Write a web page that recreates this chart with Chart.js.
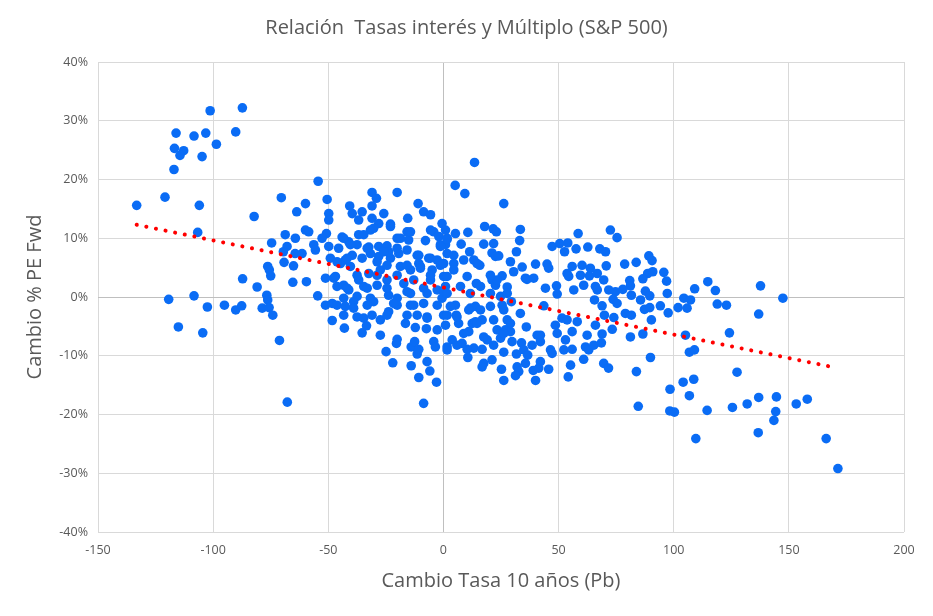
<!DOCTYPE html>
<html>
<head>
<meta charset="utf-8">
<script src="https://cdn.jsdelivr.net/npm/chart.js@4.4.1/dist/chart.umd.min.js"></script>
<style>
  body { margin: 0; background: #fff; }
  #chart { display: block; }
</style>
</head>
<body>
<canvas id="chart" width="933" height="616"></canvas>
<script>
// ===============================
// Data (x = cambio tasa 10 años en pb, y = cambio % PE fwd)
// ===============================
const xTicks = [-150, -100, -50, 0, 50, 100, 150, 200];
const yTicks = [-40, -30, -20, -10, 0, 10, 20, 30, 40];

// left cluster
const pointsLeft = [
  [-101.3,31.7],[-87.3,32.2],[-116.1,27.9],[-108.3,27.4],[-103.2,27.9],[-90.2,28.1],[-98.6,26.0],
  [-116.8,25.3],[-112.8,24.9],[-114.4,24.1],[-104.8,23.9],[-117.0,21.7],[-133.2,15.6],[-120.9,17.0],
  [-106.0,15.6],[-70.4,16.9],[-63.7,14.5],[-82.2,13.7],[-106.7,11.0],[-74.6,9.2],[-68.7,10.6],
  [-67.9,8.6],[-69.5,7.7],[-64.4,7.4],[-69.2,5.9],[-65.1,5.3],[-76.3,5.2],[-75.6,4.6],[-75.0,3.6],
  [-87.2,3.1],[-65.4,2.5],[-80.9,1.7],[-76.7,0.3],[-76.3,-0.5],[-119.3,-0.4],[-108.3,0.2],
  [-102.5,-1.7],[-95.1,-1.4],[-90.2,-2.2],[-87.6,-1.5],[-78.7,-1.9],[-75.7,-1.8],[-74.1,-3.1],
  [-115.1,-5.1],[-104.5,-6.1],[-71.2,-7.4],[-67.8,-17.9]
];

// centre-left cluster, upper half
const pointsMidUpper = [
  [-54.4,19.7],[-31,17.8],[-20.1,17.8],[-29.1,16.8],[-59.9,15.9],[-50.5,16.6],[-40.7,15.5],[-31,15.5],
  [-11,15.9],[-49.8,14.2],[-49.8,13.1],[-39.6,14.2],[-35.3,14.5],[-36.8,13.1],[-31,13.4],[-25.9,14.2],
  [-15.5,13.4],[-8.6,14.5],[-5.6,14.0],[-0.6,12.5],[-28.1,12.5],[-23,12.4],[-31.7,11.4],[-36.8,10.6],
  [-59.9,11.4],[-58.5,11.1],[-64.3,10.0],[-50.8,10.8],[-44,10.2],[-41.1,9.4],[-52.7,10.0],[-56.3,8.9],
  [-55.6,8.0],[-49.8,8.6],[-45.5,8.3],[-37.5,8.9],[-32.4,8.5],[-28.1,8.6],[-24.5,8.7],[-20.1,10.0],
  [-15.8,11.1],[-15.1,9.7],[-7.8,9.6],[-4.2,11.1],[-2,10.3],[0.9,8.9],[1.6,7.4],[-2.7,6.3],[-6.4,6.6],
  [-10.7,7.1],[-10.7,5.7],[-15.8,8.0],[-19.4,7.4],[-23,6.6],[-23.8,7.7],[-28.1,6.9],[-31.7,7.4],
  [-35.3,6.6],[-39.6,7.1],[-42.6,6.3],[-40.4,5.2],[-44.7,5.7],[-49.1,6.6],[-61.4,7.4],[-59.5,2.6],
  [-51.2,3.2],[-46.9,3.5],[-43.3,2.0],[-36.8,2.9],[-27.4,4.6],[-32.4,4.0],[-24.5,2.9],[-18.7,5.2],
  [-14.3,4.6],[-10,5.2],[-4.9,4.6],[-5.6,2.9],[-12.9,2.9],[-17.2,2.3],[-28.8,2.0],[-34.6,1.8],
  [-41.1,1.2],[-46.2,1.8],[-54.6,0.2],[-51.2,-1.4],[-48.3,-1.1],[-43.3,-0.2],[-37.5,0.1],[-31.7,-0.2],
  [-23.8,0.3],[-20.1,-0.2],[-14.3,0.6],[-7.1,0.6],[-2.7,1.2],[0.9,1.8],[-0.6,-0.2],[-8.6,-1.1],[-14.3,-1.4],
  // dense core
  [-43.3,10.0],[-34.6,10.6],[-30.3,11.7],[-23,12.0],[-18.7,10.0],[-14.3,11.1],[-5.6,11.4],[-1.3,8.9],
  [1.6,10.0],[-40.4,8.9],[-33.1,8.3],[-25.9,7.7],[-20.1,8.3],[-11.4,7.1],[-5.6,6.6],[-46.2,6.0],
  [-41.8,6.6],[-28.8,6.0],[-24.5,5.4],[-15.8,5.4],[-10,4.9],[-1.3,5.4],[-47.6,3.2],[-37.5,3.7],
  [-28.8,3.7],[-20.1,3.7],[-5.6,3.7],[-41.8,1.5],[-33.1,1.5],[-24.5,1.5],[-15.8,0.9],[-8.6,1.5],
  [0.1,0.9],[-46.2,-1.4],[-39,-0.8],[-30.3,-0.8],[-20.1,-1.4],[-12.9,-1.4],[-2.7,-1.4]
];

// centre-left cluster, lower half
const pointsMidLower = [
  [-48.3,-4.0],[-43,-5.3],[-42.6,-1.6],[-39,-1.9],[-37.5,-3.4],[-33.1,-1.4],[-31,-3.1],[-35.3,-6.1],
  [-33.4,-4.9],[-27.4,-6.5],[-27.4,-3.9],[-23.8,-2.5],[-21.6,-1.1],[-16.5,-4.5],[-12.2,-5.2],[-7.4,-5.4],
  [-2.7,-5.6],[-7.1,-3.4],[-11.4,-3.1],[-20.1,-7.2],[-20.4,-7.9],[-24.9,-9.3],[-22,-11.2],[-14,-8.5],
  [-12.5,-7.6],[-11.4,-9.7],[-10.7,-8.9],[-4.2,-7.6],[-3.5,-8.5],[-7.1,-11.0],[-14,-11.7],[-5.9,-12.6],
  [-10.7,-13.7],[-3,-14.5],[-8.6,-18.1],[1.6,-9.0],
  [-43.3,-3.1],[-34.6,-3.6],[-24.5,-3.1],[-15.8,-3.1],[-7.1,-3.6],[0.1,-3.1]
];

// centre-right cluster, upper half
const pointsRightUpper = [
  [13.5,22.9],[5.1,19.0],[9.3,17.6],[26.2,15.9],[0.9,11.4],[5.2,10.8],[10.6,11.0],[17.9,12.0],
  [21.6,11.6],[23,11.1],[33.4,11.5],[33.1,9.6],[31.7,7.7],[17.5,9.0],[21.8,9.1],[7.7,9.0],[1.6,9.8],
  [-1.3,8.6],[11.4,7.7],[4.5,7.1],[8.8,6.3],[13.2,6.3],[15.8,5.4],[21.1,7.5],[22.6,6.9],[24,7.0],
  [29.1,6.0],[30.5,4.3],[34.2,5.1],[40,5.6],[45,5.6],[45.7,4.9],[47.2,8.6],[50.5,9.1],[54,9.2],
  [52.6,7.7],[57.6,8.2],[58.5,10.8],[62.7,8.5],[67.9,8.2],[60.2,5.4],[63.8,4.9],[55.9,5.2],[53.7,4.0],
  [54.4,3.5],[59.5,3.7],[63.4,3.6],[66.8,4.0],[36.3,3.0],[39.2,3.2],[44.3,1.5],[49.1,1.9],[49.4,0.5],
  [56.6,1.2],[60.9,2.0],[66,1.8],[65.6,-0.5],[66.8,1.2],[27.7,1.7],[24.8,0.1],[29.5,-0.8],[21.1,2.9],
  [25.5,3.6],[22.6,2.0],[14.3,2.3],[16.1,1.8],[10.3,3.5],[7.4,1.8],[11.7,0.6],[4.5,5.7],[0.1,5.7],
  [0.1,3.5],[4.5,4.6],[1.6,0.6],[5.2,-1.4],[13.9,-1.6],[20.4,-1.6],[25.5,-1.4],[43.6,-1.5],
  [14.6,5.7],[1.6,3.5],[23.3,2.9],[20.4,3.7],[35.6,3.2],[20.4,0.6],[27.7,0.6],[3.0,-1.6],[11.7,-1.9]
];

// centre-right cluster, lower half
const pointsRightLower = [
  [1.6,-3.1],[5.6,-3.1],[0.9,-4.8],[6.6,-4.5],[11,-2.2],[16.1,-2.2],[12.5,-4.5],[13.9,-4.2],[16.8,-3.9],
  [11,-5.9],[27.7,-3.9],[23.3,-5.6],[26.9,-5.6],[29.1,-5.9],[36,-5.1],[40.7,-6.5],[24.8,-7.0],[29.8,-7.6],
  [19,-7.3],[21.8,-8.2],[3.8,-7.3],[8.1,-7.9],[1.6,-8.5],[5.9,-8.2],[13.2,-8.7],[16.8,-8.9],[10.3,-8.9],
  [10.6,-10.3],[26.2,-9.4],[33.9,-7.8],[38.5,-8.2],[42.1,-7.6],[34.9,-9.0],[31.7,-9.7],[36.6,-9.9],
  [35.6,-11.3],[42.1,-11.0],[46.5,-9.0],[47.2,-9.6],[21.1,-10.7],[17.5,-11.3],[16.8,-11.9],[25.2,-12.3],
  [32,-11.9],[39,-12.5],[41.4,-12.1],[45.7,-12.3],[32.7,-12.7],[26.2,-14.2],[31.3,-13.4],[40,-14.2],
  [48.6,-4.8],[49.4,-6.2],[53,-7.3],[52.3,-9.0],[55.9,-5.9],[55.9,-8.9],[51.5,-3.6],[53.7,-3.9],
  [58.1,-4.2],[62.4,-6.5],[61.7,-8.5],[63.1,-9.0],[60.9,-10.6],[55.2,-11.6],[54.2,-13.6],[65.3,-8.2],[66,-4.8],
  [26.2,-2.2],[33.4,-2.8],[5.9,-3.4],[14.6,-4.5],[21.8,-3.9],[29.1,-4.5],[8.8,-6.2],[26.2,-6.2],
  [17.5,-6.8],[42.1,-6.5]
];

// right side
const pointsFarRight = [
  [72.5,11.4],[75.4,10.1],[70.4,7.7],[70.7,5.3],[78.7,5.6],[83.7,5.9],[89.2,7.0],[90.6,6.2],[88.7,4.0],
  [90.9,4.3],[86.6,3.1],[95.7,4.2],[96.9,2.7],[80.9,2.8],[81.2,1.9],[69.6,2.9],[71.8,1.2],[74.7,0.9],
  [77.9,1.3],[81.6,0.3],[87.7,1.0],[89.6,0.2],[97.2,0.6],[85.6,-0.5],[73.7,-0.4],[68.9,-1.5],[75.4,-1.1],
  [87.3,-2.1],[89.6,-1.8],[94.2,-1.5],[97.6,-2.7],[79,-2.8],[81.6,-3.1],[74,-3.5],[69.9,-3.1],[90.3,-3.9],
  [101.9,-1.8],[104.4,-0.2],[107.3,-0.5],[105.8,-1.9],[109.1,1.4],[114.8,2.6],[118.1,1.1],[118.9,-1.2],
  [122.9,-1.4],
  [68.9,-6.3],[68.6,-7.8],[73.3,-5.5],[81.2,-6.8],[86.6,-6.3],[69.6,-11.3],[71.7,-12.1],[83.8,-12.7],
  [89.9,-10.3],[84.6,-18.6],[105.1,-6.5],[106.8,-9.4],[109,-9.0],[124.2,-6.1],[127.5,-12.8],[108.7,-14.0],
  [104.1,-14.5],[106.8,-16.8],[98.4,-15.7],[98.3,-19.4],[100.3,-19.6],[114.5,-19.3],[125.5,-18.8],
  [109.6,-24.1],
  [137.7,1.9],[147.4,-0.2],[136.9,-2.9],[131.9,-18.2],[136.9,-17.1],[144.6,-17.0],[144.3,-19.5],
  [143.5,-21.0],[136.7,-23.1],[153.2,-18.2],[158,-17.4],[166.2,-24.1],[171.3,-29.2]
];

// linear trend line, end points
const trendX = [-133.2, 170];
const trendY = [12.3, -12.0];

// ===============================
// Build chart
// ===============================
const allPoints = [].concat(pointsLeft, pointsMidUpper, pointsMidLower, pointsRightUpper, pointsRightLower, pointsFarRight)
  .map(p => ({ x: p[0], y: p[1] }));
const trendPoints = trendX.map((x, i) => ({ x, y: trendY[i] }));

const FONT = "'Open Sans', 'Liberation Sans', sans-serif";
const TEXT = "#595959";

new Chart(document.getElementById("chart"), {
  type: "scatter",
  data: {
    datasets: [
      {
        label: "Tendencia",
        data: trendPoints,
        showLine: true,
        order: 0,
        pointRadius: 0,
        borderColor: "#ff0000",
        borderWidth: 4,
        borderDash: [0.1, 9.7],
        borderCapStyle: "round"
      },
      {
        label: "Datos",
        data: allPoints,
        order: 1,
        pointRadius: 4.8,
        pointBackgroundColor: "#0a6cf5",
        pointBorderWidth: 0
      }
    ]
  },
  options: {
    responsive: false,
    animation: false,
    layout: { padding: 0 },
    plugins: {
      legend: { display: false },
      tooltip: { enabled: false },
      title: {
        display: true,
        text: "Relación  Tasas interés y Múltiplo (S&P 500)",
        color: TEXT,
        font: { family: FONT, size: 20, weight: "normal" },
        padding: { top: 16, bottom: 22 }
      }
    },
    scales: {
      x: {
        type: "linear",
        min: -150,
        max: 200,
        afterFit: s => { s.height = 84; },
        afterBuildTicks: s => { s.ticks = xTicks.map(v => ({ value: v })); },
        ticks: { color: TEXT, font: { family: FONT, size: 12.5 }, padding: 11, maxRotation: 0 },
        grid: {
          drawTicks: false,
          color: c => (c.tick && c.tick.value === 0 ? "#bfbfbf" : "#d9d9d9")
        },
        border: { display: false },
        title: {
          display: true,
          text: "Cambio Tasa 10 años (Pb)",
          color: TEXT,
          font: { family: FONT, size: 20 },
          padding: { top: 0, bottom: 23 }
        }
      },
      y: {
        type: "linear",
        min: -40,
        max: 40,
        afterFit: s => { s.width = 98; },
        afterBuildTicks: s => { s.ticks = yTicks.map(v => ({ value: v })); },
        ticks: { color: TEXT, font: { family: FONT, size: 12.5 }, padding: 10, callback: v => v + "%" },
        grid: {
          drawTicks: false,
          color: c => (c.tick && c.tick.value === 0 ? "#bfbfbf" : "#d9d9d9")
        },
        border: { display: false },
        title: {
          display: true,
          text: "Cambio % PE Fwd",
          color: TEXT,
          font: { family: FONT, size: 20 },
          padding: { top: 23, bottom: 0 }
        }
      },
      // empty right-hand spacer so the plot ends where the original does
      spacer: {
        type: "linear",
        position: "right",
        afterFit: s => { s.width = 29; },
        ticks: { display: false },
        grid: { display: false },
        border: { display: false }
      }
    }
  }
});
</script>
</body>
</html>
